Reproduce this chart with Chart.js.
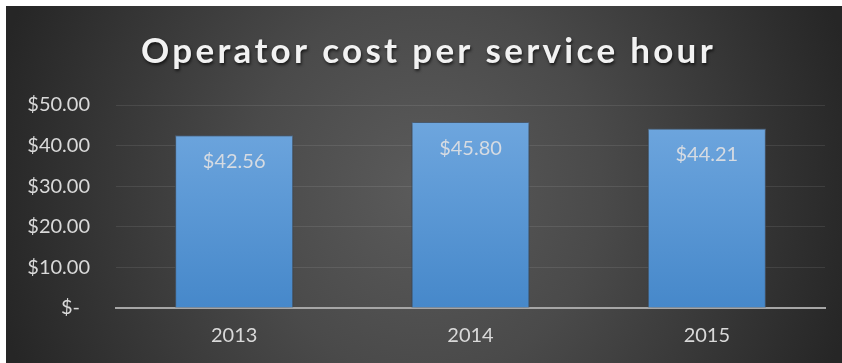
<!DOCTYPE html>
<html>
<head>
<meta charset="utf-8">
<script src="https://cdn.jsdelivr.net/npm/chart.js@4/dist/chart.umd.min.js"></script>
<style>
  html, body { margin: 0; padding: 0; background: #ffffff; }
  #wrap { width: 842px; height: 363px; position: relative; }
</style>
</head>
<body>
<div id="wrap"><canvas id="c" width="842" height="363"></canvas></div>
<script>
const titleText = 'Operator cost per service hour';
const categories = ['2013', '2014', '2015'];
const costValues = [42.56, 45.80, 44.21];
const yMin = 0;
const yMax = 50;
const yStep = 10;

function money(v) {
  return v === 0 ? '$-\u2002' : '$' + v.toFixed(2);
}

const bgPlugin = {
  id: 'bgPanel',
  beforeDraw(chart) {
    const ctx = chart.ctx;
    ctx.save();
    const x0 = 6, y0 = 6, w = chart.width - x0, h = chart.height - y0;
    ctx.beginPath();
    ctx.rect(x0, y0, w, h);
    ctx.clip();
    const cx = 425, cy = 188, rx = 440, ry = 470;
    ctx.translate(cx, cy);
    ctx.scale(rx / ry, 1);
    const g = ctx.createRadialGradient(0, 0, 0, 0, 0, ry);
    g.addColorStop(0, '#5b5b5b');
    g.addColorStop(0.4, '#4a4a4a');
    g.addColorStop(1, '#262626');
    ctx.fillStyle = g;
    ctx.fillRect(-cx * ry / rx - 50, -cy - 50, (chart.width + 100) * ry / rx + 100, chart.height + 100);
    ctx.restore();
  },
  afterLayout(chart) {
    const t = chart.titleBlock;
    if (t && !t._patched) {
      const orig = t.draw.bind(t);
      t.draw = function (area) {
        const ctx = this.ctx;
        ctx.save();
        ctx.translate(13, 0);
        ctx.letterSpacing = '3.3px';
        ctx.shadowColor = 'rgba(0,0,0,0.65)';
        ctx.shadowBlur = 3;
        ctx.shadowOffsetX = 1;
        ctx.shadowOffsetY = 2;
        orig(area);
        ctx.restore();
      };
      t._patched = true;
    }
  },
  beforeDatasetsDraw(chart) {
    const ctx = chart.ctx;
    ctx.save();
    ctx.shadowColor = 'rgba(0,0,0,0.45)';
    ctx.shadowBlur = 5;
    ctx.shadowOffsetX = 0;
    ctx.shadowOffsetY = 1;
  },
  afterDatasetsDraw(chart) {
    const ctx = chart.ctx;
    ctx.restore();
    ctx.save();
    ctx.font = '20px Lato';
    ctx.fillStyle = '#d6dbe2';
    ctx.textAlign = 'center';
    ctx.textBaseline = 'middle';
    const meta = chart.getDatasetMeta(0);
    meta.data.forEach((bar, i) => {
      const v = chart.data.datasets[0].data[i];
      ctx.fillText(money(v), bar.x, bar.y + 26);
    });
    ctx.restore();
  }
};

new Chart(document.getElementById('c'), {
  type: 'bar',
  data: {
    labels: categories,
    datasets: [{
      label: 'Operator cost per service hour',
      data: costValues,
      backgroundColor(context) {
        const area = context.chart.chartArea;
        if (!area) return '#5b9bd5';
        const g = context.chart.ctx.createLinearGradient(0, area.top + 15, 0, area.bottom);
        g.addColorStop(0, '#6ea6de');
        g.addColorStop(1, '#4688ca');
        return g;
      },
      borderColor: 'rgba(85,105,130,0.9)',
      borderWidth: 1,
      barPercentage: 1.0,
      categoryPercentage: 0.5
    }]
  },
  options: {
    responsive: false,
    animation: false,
    devicePixelRatio: 1,
    layout: { padding: { top: 6, left: 6, right: 17, bottom: 0 } },
    plugins: {
      legend: { display: false },
      tooltip: { enabled: false },
      title: {
        display: true,
        text: titleText,
        color: '#f2f2f2',
        font: { family: 'Lato', size: 35, weight: 'bold', lineHeight: 1.2 },
        padding: { top: 25, bottom: 32 }
      }
    },
    scales: {
      x: {
        grid: { display: false, drawTicks: false },
        border: { display: true, color: '#a6a6a6', width: 2 },
        ticks: { color: '#d9d9d9', font: { family: 'Lato', size: 20 }, padding: 16 },
        afterFit(scale) { scale.height = 55; }
      },
      y: {
        min: yMin,
        max: yMax,
        grid: { color: 'rgba(255,255,255,0.09)', lineWidth: 1, drawTicks: false },
        border: { display: false },
        ticks: {
          stepSize: yStep,
          color: '#d9d9d9',
          font: { family: 'Lato', size: 20 },
          padding: 26,
          callback: (v) => money(v)
        },
        afterFit(scale) { scale.width = 110; }
      }
    }
  },
  plugins: [bgPlugin]
});
</script>
</body>
</html>
